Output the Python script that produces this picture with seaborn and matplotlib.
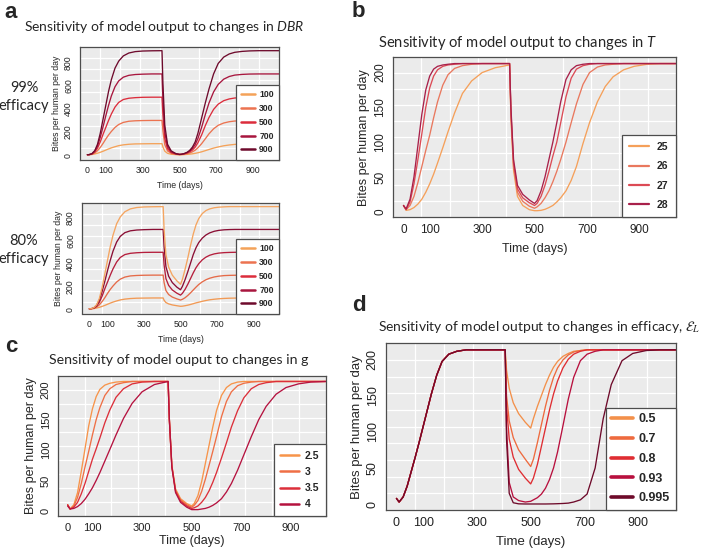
import numpy as np
import pandas as pd
import matplotlib
matplotlib.use("Agg")
import matplotlib.pyplot as plt
from matplotlib.lines import Line2D
import seaborn as sns

# time points (days) shared by all curves
days = [0, 10, 25, 40, 55, 70, 85, 100, 115, 130, 150, 170, 195, 225, 260, 300, 350, 405,
        410, 420, 435, 455, 480, 500, 510, 525, 540, 555, 570, 585, 600, 620, 640, 660,
        685, 710, 740, 770, 800, 840, 880, 930, 980, 1040]

# ---- panel a : DBR, rise before the intervention (same in both rows)
a_rise_100 = [5, 5.5, 7, 12, 18, 26, 35, 45, 55, 64, 74, 83, 90, 95, 98, 99, 100, 100]
a_rise_300 = [5, 6, 9, 20, 40, 68, 102, 140, 175, 205, 240, 265, 283, 293, 297, 299, 300, 300]
a_rise_500 = [5, 6, 11, 28, 62, 115, 180, 240, 300, 355, 415, 455, 480, 491, 496, 499, 500, 500]
a_rise_700 = [5, 6, 13, 35, 80, 155, 245, 340, 430, 510, 590, 640, 672, 688, 695, 698, 700, 700]
a_rise_900 = [5, 6, 15, 40, 95, 190, 310, 430, 550, 650, 750, 810, 855, 880, 892, 897, 899, 900]

# 99% efficacy, from day 410 on
a99_100 = [72, 36, 17, 9, 6, 4, 5, 6, 8, 10, 13, 17, 22, 30, 40, 50, 62, 72, 82, 89, 94, 97, 99, 100, 100, 100]
a99_300 = [210, 92, 38, 17, 9, 6, 7, 9, 14, 20, 30, 44, 65, 100, 142, 185, 228, 258, 278, 289, 295, 298, 299, 300, 300, 300]
a99_500 = [345, 145, 56, 23, 11, 7, 8, 12, 19, 29, 45, 70, 108, 175, 255, 325, 395, 440, 470, 485, 493, 497, 499, 500, 500, 500]
a99_700 = [480, 200, 75, 30, 13, 8, 9, 14, 22, 36, 58, 92, 145, 240, 350, 450, 545, 610, 655, 678, 690, 696, 699, 700, 700, 700]
a99_900 = [620, 260, 95, 38, 15, 8, 9, 15, 25, 42, 70, 115, 190, 320, 450, 570, 700, 790, 845, 872, 886, 894, 898, 900, 900, 900]

# 80% efficacy, from day 410 on
a80_100 = [80, 60, 48, 39, 32, 27, 28, 32, 37, 43, 50, 57, 63, 71, 78, 84, 89, 93, 96, 98, 99, 100, 100, 100, 100, 100]
a80_300 = [235, 165, 130, 108, 92, 82, 88, 102, 122, 145, 170, 195, 218, 242, 260, 273, 284, 291, 296, 298, 299, 300, 300, 300, 300, 300]
a80_500 = [390, 270, 210, 170, 142, 125, 140, 175, 220, 270, 320, 365, 400, 435, 458, 474, 486, 493, 497, 499, 500, 500, 500, 500, 500, 500]
a80_700 = [545, 375, 290, 235, 195, 172, 200, 260, 330, 405, 480, 540, 585, 625, 652, 670, 684, 692, 697, 699, 700, 700, 700, 700, 700, 700]
a80_900 = [700, 480, 370, 300, 250, 220, 260, 350, 450, 560, 660, 740, 795, 840, 866, 880, 890, 895, 898, 900, 900, 900, 900, 900, 900, 900]

# ---- panel b : temperature T
b_25 = [9, 2, 3, 6, 11, 18, 28, 40, 54, 70, 92, 115, 142, 170, 188, 200, 207, 211,
        135, 60, 22, 9, 3, 1.5, 1.5, 2, 3.5, 6, 9, 14, 20, 30, 45, 65, 98, 128, 158, 180, 194, 204, 209, 212, 213, 213]
b_26 = [9, 3, 9, 22, 42, 65, 88, 110, 135, 158, 182, 197, 206, 210, 212, 213, 213, 213,
        140, 65, 28, 15, 8, 5, 7, 12, 20, 30, 43, 58, 75, 100, 128, 155, 183, 200, 208, 211, 212, 213, 213, 213, 213, 213]
b_27 = [9, 3, 14, 40, 75, 112, 150, 178, 195, 204, 209, 211, 212, 213, 213, 213, 213, 213,
        145, 70, 33, 20, 13, 9, 12, 22, 38, 58, 80, 100, 128, 165, 192, 205, 210, 212, 213, 213, 213, 213, 213, 213, 213, 213]
b_28 = [9, 4, 18, 50, 95, 140, 175, 195, 205, 209, 211, 212, 213, 213, 213, 213, 213, 213,
        150, 75, 38, 25, 17, 12, 16, 30, 50, 75, 100, 128, 158, 190, 204, 210, 212, 213, 213, 213, 213, 213, 213, 213, 213, 213]

# ---- panel c : g
c_25 = [10, 3, 10, 30, 65, 102, 140, 168, 188, 200, 207, 210, 212, 213, 213, 213, 213, 213,
        150, 75, 36, 20, 12, 8, 12, 25, 48, 78, 108, 138, 165, 190, 203, 209, 212, 213, 213, 213, 213, 213, 213, 213, 213, 213]
c_3 = [10, 3, 8, 22, 45, 72, 98, 125, 150, 170, 190, 201, 208, 211, 213, 213, 213, 213,
       150, 74, 34, 18, 10, 6, 9, 17, 32, 52, 75, 98, 122, 155, 180, 196, 206, 210, 212, 213, 213, 213, 213, 213, 213, 213]
c_35 = [10, 3, 6, 14, 28, 45, 65, 85, 102, 120, 145, 166, 187, 201, 209, 212, 213, 213,
        150, 73, 32, 16, 8, 4, 5, 8, 14, 22, 33, 47, 63, 87, 112, 138, 165, 186, 201, 208, 211, 213, 213, 213, 213, 213]
c_4 = [8, 3, 4, 7, 12, 19, 28, 38, 50, 63, 82, 101, 125, 152, 177, 196, 208, 213,
       150, 72, 30, 14, 6, 2, 2, 2, 3, 4, 6, 9, 13, 20, 31, 45, 67, 92, 122, 150, 172, 192, 203, 209, 212, 213]

# ---- panel d : efficacy
d_rise = [8, 3, 10, 25, 45, 65, 86, 108, 130, 152, 178, 197, 207, 211, 213, 213, 213, 213]
d_05 = [185, 160, 140, 125, 113, 105, 118, 135, 150, 165, 178, 189, 197, 204, 208, 211, 212, 213, 213, 213, 213, 213, 213, 213, 213, 213]
d_07 = [150, 115, 92, 75, 62, 52, 62, 85, 110, 135, 157, 175, 188, 199, 206, 210, 212, 213, 213, 213, 213, 213, 213, 213, 213, 213]
d_08 = [135, 90, 65, 48, 36, 28, 36, 55, 80, 105, 130, 152, 170, 188, 200, 207, 211, 213, 213, 213, 213, 213, 213, 213, 213, 213]
d_093 = [105, 30, 10, 5, 3, 4, 6, 9, 14, 22, 34, 50, 72, 108, 145, 175, 198, 207, 211, 213, 213, 213, 213, 213, 213, 213]
d_0995 = [90, 15, 2, 0.5, 0.3, 0.3, 0.3, 0.3, 0.3, 0.3, 0.4, 0.5, 0.7, 1, 1.5, 3, 6, 14, 50, 118, 165, 198, 208, 212, 213, 213]

a_labels = ["100", "300", "500", "700", "900"]
b_labels = ["25", "26", "27", "28"]
c_labels = ["2.5", "3", "3.5", "4"]
d_labels = ["0.5", "0.7", "0.8", "0.93", "0.995"]

a_colors = ["#F4A259", "#EC7350", "#DC2D3C", "#A8163E", "#6E0A2C"]
a80_line_colors = ["#F29A55", "#E56A48", "#B51E3C", "#8A0E34", "#F5A560"]
b_colors = ["#F5A05A", "#E9785E", "#DC4A55", "#A8204A"]
c_colors = ["#F7944A", "#EF6F45", "#DC2F3A", "#B5123F"]
d_colors = ["#F3904A", "#EE6A3E", "#DF2D32", "#B8103E", "#6E0A2A"]

W, H = 709, 550
BG = "#EBEBEB"
EDGE = "#4D4D4D"

sns.set_style("white")
plt.rcParams["font.family"] = ["Liberation Sans", "DejaVu Sans"]
plt.rcParams["mathtext.fontset"] = "custom"
plt.rcParams["mathtext.it"] = "Lato:italic"
plt.rcParams["mathtext.rm"] = "Lato"

fig = plt.figure(figsize=(W / 100, H / 100), dpi=100)


def rect(x0, y0, x1, y1):
    return [x0 / W, 1 - y1 / H, (x1 - x0) / W, (y1 - y0) / H]


def draw_panel(ax, series, labels, line_colors, leg_colors, ylim, yticks,
               tick_fs, lab_fs, leg):
    df = pd.DataFrame({
        "time": days * len(series),
        "bites": np.concatenate(series),
        "level": np.repeat(labels, len(days)),
    })
    sns.lineplot(data=df, x="time", y="bites", hue="level", hue_order=labels,
                 palette=line_colors, estimator=None, sort=False, legend=False,
                 linewidth=0.95, ax=ax)
    xlim = (-40, 1040)
    ax.set_xlim(xlim)
    ax.set_ylim(ylim)
    ax.set_facecolor(BG)
    # background grid: 10 equal divisions like base R grid()
    ax.set_xticks(np.linspace(xlim[0], xlim[1], 11)[1:-1], minor=True)
    ax.set_yticks(np.linspace(ylim[0], ylim[1], 11)[1:-1], minor=True)
    ax.grid(which="minor", color="white", linewidth=0.9)
    ax.grid(which="major", visible=False)
    ax.set_axisbelow(True)
    ax.set_xticks(range(0, 1001, 100))
    ax.set_xticklabels(["0", "100", "", "300", "", "500", "", "700", "", "900", ""])
    ax.set_yticks(yticks)
    ax.set_yticklabels([str(v) for v in yticks], rotation=90, va="center")
    ax.tick_params(which="minor", length=0)
    ax.tick_params(which="major", length=3, width=0.6, color=EDGE, labelsize=tick_fs,
                   pad=2, labelcolor="#222222")
    for s in ax.spines.values():
        s.set_color(EDGE)
        s.set_linewidth(0.9)
    ax.set_xlabel("Time (days)", fontsize=lab_fs, labelpad=leg["xpad"])
    ax.set_ylabel("Bites per human per day", fontsize=lab_fs, labelpad=leg["ypad"])
    handles = [Line2D([], [], color=c, lw=leg["lw"]) for c in leg_colors]
    lg = ax.legend(handles, labels, loc="lower right", bbox_to_anchor=(1, 0),
                   borderaxespad=0, fancybox=False, framealpha=1, edgecolor=EDGE,
                   prop={"weight": "bold", "size": leg["fs"]},
                   handlelength=leg["hl"], handletextpad=leg["htp"],
                   labelspacing=leg["ls"], borderpad=leg["bp"])
    lg.get_frame().set_linewidth(0.9)


ax_a1 = fig.add_axes(rect(80, 46.5, 279, 159.5))
ax_a2 = fig.add_axes(rect(82, 202.5, 279, 313.5))
ax_b = fig.add_axes(rect(393, 57.3, 676, 217.3))
ax_c = fig.add_axes(rect(57.7, 376, 325.7, 515.7))
ax_d = fig.add_axes(rect(385.7, 343.3, 675.7, 510))

leg_a = dict(fs=6.2, lw=1.8, hl=1.6, htp=0.5, ls=0.55, bp=0.6, xpad=4, ypad=2)
leg_b = dict(fs=7.5, lw=1.6, hl=1.9, htp=0.75, ls=0.9, bp=0.7, xpad=5, ypad=3)
leg_c = dict(fs=7.5, lw=1.8, hl=1.8, htp=0.6, ls=0.6, bp=0.6, xpad=2, ypad=3)
leg_d = dict(fs=9.0, lw=2.6, hl=1.7, htp=0.5, ls=0.62, bp=0.45, xpad=5, ypad=3)

a99 = [a_rise_100 + a99_100, a_rise_300 + a99_300, a_rise_500 + a99_500,
       a_rise_700 + a99_700, a_rise_900 + a99_900]
a80 = [a_rise_100 + a80_100, a_rise_300 + a80_300, a_rise_500 + a80_500,
       a_rise_700 + a80_700, a_rise_900 + a80_900]
d_all = [d_rise + d_05, d_rise + d_07, d_rise + d_08, d_rise + d_093, d_rise + d_0995]

a_yt = [0, 200, 400, 600, 800]
s_yt = [0, 50, 100, 150, 200]
draw_panel(ax_a1, a99, a_labels, a_colors, a_colors, (-36, 936), a_yt, 6.3, 6.3, leg_a)
draw_panel(ax_a2, a80, a_labels, a80_line_colors, a_colors, (-36, 936), a_yt, 6.3, 6.3, leg_a)
draw_panel(ax_b, [b_25, b_26, b_27, b_28], b_labels, b_colors, b_colors, (-8, 222), s_yt, 8.5, 9, leg_b)
draw_panel(ax_c, [c_25, c_3, c_35, c_4], c_labels, c_colors, c_colors, (-8, 222), s_yt, 8, 9, leg_c)
draw_panel(ax_d, d_all, d_labels, d_colors, d_colors, (-8, 222), s_yt, 9, 9.5, leg_d)


def ftext(x, y, s, **kw):
    fig.text(x / W, 1 - y / H, s, **kw)


# panel letters
for x, y, s in [(4, 18, "a"), (352, 17, "b"), (5, 352, "c"), (352, 311, "d")]:
    ftext(x, y, s, fontsize=16, fontweight="bold", va="baseline")

ftext(24, 31, r"Sensitivity of model output to changes in $\mathit{DBR}$",
      family="Lato", fontsize=10, va="baseline")
ftext(378, 47, r"Sensitivity of model output to changes in $\mathit{T}$",
      family="Lato", fontsize=10.6, va="baseline")
ftext(49, 364, "Sensitivity of model ouput to changes in g",
      family="Lato", fontsize=10.2, va="baseline")
ftext(378, 331, r"Sensitivity of model output to changes in efficacy, $\mathcal{E}_L$",
      family="Lato", fontsize=10.0, va="baseline", math_fontfamily="stix")

ftext(24, 97, "99%\nefficacy", family="Lato", fontsize=10.5, ha="center", va="center",
      linespacing=1.35)
ftext(24, 250, "80%\nefficacy", family="Lato", fontsize=10.5, ha="center", va="center",
      linespacing=1.35)

fig.savefig("out.png", dpi=100)
